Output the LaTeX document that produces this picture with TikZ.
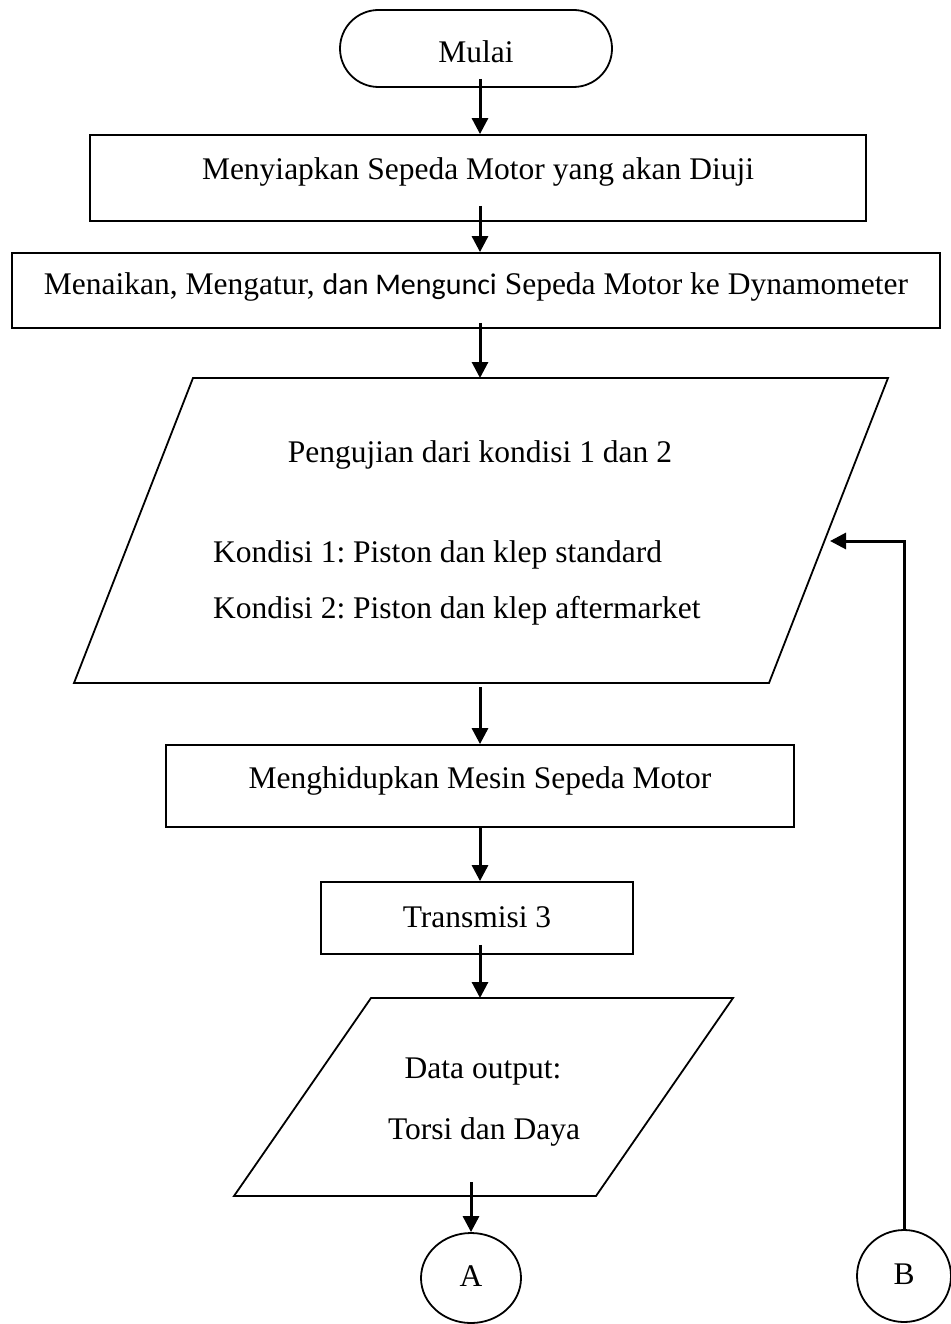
\documentclass[tikz,border=0pt]{standalone}
\usepackage{fontspec}
\setmainfont{Liberation Serif}
\newfontfamily\calib{Carlito}
\usetikzlibrary{arrows.meta,shapes.geometric}
\frenchspacing
\begin{document}
\begin{tikzpicture}[x=1pt,y=-1pt,
  font=\fontsize{31.5}{38}\selectfont,
  box/.style={draw, line width=1.8pt, rectangle, inner sep=0pt, text height=22pt, text depth=7pt},
  term/.style={box, rounded corners=38.5pt},
  conn/.style={draw, line width=1.8pt, ellipse, inner sep=0pt, text height=22pt, text depth=7pt},
  flow/.style={line width=3pt, -{Triangle[width=16pt,length=16pt]}},
  outline/.style={line width=1.8pt, line join=miter},
  txt/.style={inner sep=0pt}
]
\useasboundingbox (0,0) rectangle (950,1324);
\coordinate (axis) at (480,0);

% terminator
\node[term, minimum width=272pt, minimum height=77pt, text height=36pt] (start) at (476,48.5) {Mulai};

% process boxes
\node[box, minimum width=776pt, minimum height=86pt, text depth=18pt] (s1) at (478,178)
  {Menyiapkan Sepeda Motor yang akan Diuji};
\node[box, minimum width=928pt, minimum height=75pt, text depth=15pt] (s2) at (476,290.5)
  {Menaikan, Mengatur, {\calib\fontsize{30}{36}\selectfont dan Mengunci} Sepeda Motor ke Dynamometer};

% input parallelogram 1
\coordinate (p1a) at (193,378);
\coordinate (p1b) at (888,378);
\coordinate (p1c) at (769,683);
\coordinate (p1d) at (74,683);
\draw[outline] (p1a) -- (p1b) -- (p1c) -- (p1d) -- cycle;
\coordinate (p1t) at (480,378);
\coordinate (p1s) at (480,683);
\node[txt, anchor=base] (t1) at (480,462) {Pengujian dari kondisi 1 dan 2};
\node[txt, anchor=base west] (t2) at (213,562) {Kondisi 1: Piston dan klep standard};
\node[txt, anchor=base west] (t3) at (213,618) {Kondisi 2: Piston dan klep aftermarket};

\node[box, minimum width=628pt, minimum height=82pt, text depth=18pt] (s3) at (480,786)
  {Menghidupkan Mesin Sepeda Motor};
\node[box, minimum width=312pt, minimum height=72pt, text height=25pt] (s4) at (477,918)
  {Transmisi 3};

% output parallelogram 2
\coordinate (p2a) at (371,998);
\coordinate (p2b) at (733,998);
\coordinate (p2c) at (596,1196);
\coordinate (p2d) at (234,1196);
\draw[outline] (p2a) -- (p2b) -- (p2c) -- (p2d) -- cycle;
\coordinate (p2t) at (480,998);
\coordinate (p2s) at (471,1196);
\node[txt, anchor=base] (t4) at (483,1078) {Data output:};
\node[txt, anchor=base] (t5) at (484,1139) {Torsi dan Daya};

% connectors
\node[conn, minimum width=100pt, minimum height=90pt, text height=23pt] (A) at (471,1278) {A};
\node[conn, minimum width=94pt, minimum height=92pt, text height=23pt] (B) at (904,1276) {B};

\draw[flow] ([yshift=9pt]start.south -| axis) -- (s1.north -| axis);
\draw[flow] ([yshift=16pt]s1.south -| axis) -- (s2.north -| axis);
\draw[flow] ([yshift=6pt]s2.south -| axis) -- (p1t);
\draw[flow] ([yshift=-4pt]p1s) -- (s3.north -| axis);
\draw[flow] (s3.south -| axis) -- (s4.north -| axis);
\draw[flow] ([yshift=10pt]s4.south -| axis) -- (p2t);
\draw[flow] ([yshift=14pt]p2s) -- (A.north);
\coordinate (fb) at (830,541);
\draw[flow] (B.north) |- (fb);
\end{tikzpicture}
\end{document}
